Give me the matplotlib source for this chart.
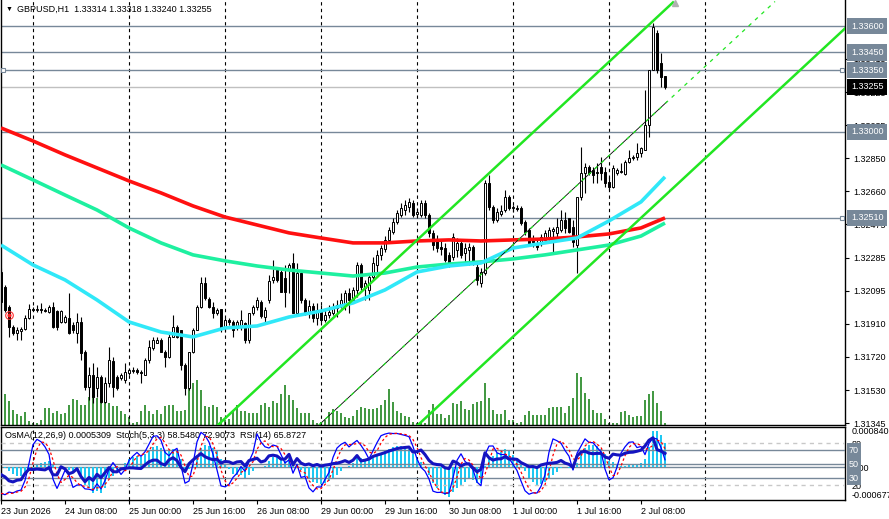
"""GBPUSD H1 chart in MetaTrader style: candles, volumes, MAs, channel and OsMA/Stoch/RSI pane."""

import matplotlib
matplotlib.use("Agg")
import matplotlib.pyplot as plt
import matplotlib.transforms as mtransforms
import numpy as np

plt.rcParams.update({"font.family": ["Liberation Sans", "DejaVu Sans"], "font.size": 6.5})

# ── Data ──────────────────────────────────────────────────────────────────
opens = [
    1.32203, 1.32118, 1.32004, 1.31890, 1.31857, 1.31868, 1.31879, 1.31942, 1.31993, 1.31987,
    1.31993, 1.31987, 1.31976, 1.32004, 1.31981, 1.31919, 1.31919, 1.31942, 1.31902, 1.31857,
    1.31919, 1.31749, 1.31550, 1.31618, 1.31544, 1.31607, 1.31465, 1.31573, 1.31697, 1.31607,
    1.31601, 1.31590, 1.31629, 1.31641, 1.31646, 1.31635, 1.31618, 1.31703, 1.31771, 1.31800,
    1.31817, 1.31749, 1.31720, 1.31834, 1.31890, 1.31874, 1.31675, 1.31544, 1.31749, 1.31874,
    1.32004, 1.32140, 1.32050, 1.32004, 1.31970, 1.31993, 1.31885, 1.31930, 1.31919, 1.31890,
    1.31890, 1.31913, 1.31817, 1.31970, 1.32004, 1.32033, 1.31947, 1.32044, 1.32158, 1.32214,
    1.32203, 1.32169, 1.32214, 1.32254, 1.31970, 1.32197, 1.32044, 1.31976, 1.32010, 1.31942,
    1.31987, 1.31930, 1.31959, 1.31970, 1.31998, 1.32010, 1.32016, 1.32084, 1.32044, 1.32101,
    1.32242, 1.32112, 1.32101, 1.32175, 1.32242, 1.32299, 1.32333, 1.32385, 1.32430, 1.32487,
    1.32527, 1.32555, 1.32572, 1.32595, 1.32533, 1.32527, 1.32595, 1.32527, 1.32425, 1.32385,
    1.32345, 1.32339, 1.32299, 1.32288, 1.32328, 1.32368, 1.32311, 1.32328, 1.32345, 1.32231,
    1.32140, 1.32197, 1.32709, 1.32572, 1.32498, 1.32533, 1.32555, 1.32629, 1.32567, 1.32567,
    1.32567, 1.32487, 1.32442, 1.32396, 1.32356, 1.32368, 1.32385, 1.32402, 1.32436, 1.32425,
    1.32442, 1.32498, 1.32510, 1.32459, 1.32356, 1.32629, 1.32765, 1.32799, 1.32782, 1.32771,
    1.32799, 1.32771, 1.32714, 1.32686, 1.32765, 1.32771, 1.32760, 1.32828, 1.32850, 1.32856,
    1.32879, 1.32896, 1.33038, 1.33350, 1.33560, 1.33390, 1.33314,
]
highs = [
    1.32225, 1.32130, 1.32016, 1.31902, 1.31890, 1.31890, 1.31959, 1.32021, 1.32004, 1.32016,
    1.32027, 1.31998, 1.32016, 1.32033, 1.31987, 1.31987, 1.31959, 1.32084, 1.31919, 1.31970,
    1.31947, 1.31760, 1.31663, 1.31686, 1.31663, 1.31618, 1.31607, 1.31777, 1.31720, 1.31618,
    1.31629, 1.31686, 1.31658, 1.31663, 1.31658, 1.31646, 1.31714, 1.31817, 1.31834, 1.31834,
    1.31828, 1.31760, 1.31857, 1.31959, 1.31902, 1.31874, 1.31686, 1.31749, 1.31885, 1.32016,
    1.32175, 1.32175, 1.32061, 1.32033, 1.31998, 1.31993, 1.31942, 1.31942, 1.31930, 1.31930,
    1.31987, 1.31919, 1.31970, 1.32016, 1.32061, 1.32044, 1.32004, 1.32186, 1.32271, 1.32225,
    1.32214, 1.32242, 1.32254, 1.32311, 1.32254, 1.32214, 1.32055, 1.32044, 1.32027, 1.32027,
    1.32016, 1.31987, 1.32016, 1.32027, 1.32044, 1.32084, 1.32101, 1.32112, 1.32118, 1.32259,
    1.32254, 1.32158, 1.32186, 1.32288, 1.32328, 1.32356, 1.32408, 1.32459, 1.32510, 1.32555,
    1.32595, 1.32612, 1.32624, 1.32612, 1.32567, 1.32612, 1.32612, 1.32538, 1.32442, 1.32413,
    1.32385, 1.32368, 1.32316, 1.32425, 1.32396, 1.32385, 1.32368, 1.32368, 1.32356, 1.32259,
    1.32225, 1.32726, 1.32754, 1.32584, 1.32567, 1.32584, 1.32669, 1.32641, 1.32584, 1.32584,
    1.32578, 1.32498, 1.32453, 1.32413, 1.32385, 1.32419, 1.32442, 1.32459, 1.32459, 1.32510,
    1.32555, 1.32544, 1.32510, 1.32498, 1.32629, 1.32913, 1.32822, 1.32811, 1.32799, 1.32822,
    1.32856, 1.32799, 1.32743, 1.32811, 1.32794, 1.32822, 1.32839, 1.32896, 1.32868, 1.32936,
    1.32913, 1.33237, 1.33350, 1.33617, 1.33578, 1.33447, 1.33318,
]
lows = [
    1.32016, 1.31976, 1.31834, 1.31846, 1.31817, 1.31817, 1.31874, 1.31936, 1.31981, 1.31976,
    1.31970, 1.31976, 1.31970, 1.31885, 1.31874, 1.31913, 1.31913, 1.31850, 1.31857, 1.31800,
    1.31703, 1.31533, 1.31476, 1.31459, 1.31493, 1.31459, 1.31459, 1.31550, 1.31493, 1.31533,
    1.31590, 1.31573, 1.31618, 1.31629, 1.31624, 1.31573, 1.31618, 1.31686, 1.31760, 1.31800,
    1.31749, 1.31663, 1.31714, 1.31834, 1.31828, 1.31646, 1.31504, 1.31533, 1.31743, 1.31874,
    1.31998, 1.32044, 1.31998, 1.31942, 1.31959, 1.31862, 1.31862, 1.31902, 1.31834, 1.31874,
    1.31874, 1.31800, 1.31800, 1.31959, 1.31987, 1.31942, 1.31913, 1.32027, 1.32140, 1.32147,
    1.32089, 1.32004, 1.32084, 1.31970, 1.31959, 1.32027, 1.31959, 1.31942, 1.31919, 1.31902,
    1.31919, 1.31919, 1.31942, 1.31959, 1.31947, 1.31998, 1.31987, 1.31970, 1.32033, 1.32061,
    1.32101, 1.32044, 1.32044, 1.32158, 1.32197, 1.32271, 1.32316, 1.32373, 1.32419, 1.32476,
    1.32516, 1.32527, 1.32544, 1.32516, 1.32510, 1.32516, 1.32510, 1.32402, 1.32328, 1.32316,
    1.32299, 1.32259, 1.32231, 1.32271, 1.32288, 1.32282, 1.32259, 1.32242, 1.32242, 1.32130,
    1.32118, 1.32186, 1.32555, 1.32481, 1.32487, 1.32521, 1.32544, 1.32555, 1.32544, 1.32550,
    1.32470, 1.32413, 1.32351, 1.32345, 1.32328, 1.32351, 1.32368, 1.32385, 1.32311, 1.32402,
    1.32430, 1.32425, 1.32425, 1.32345, 1.32197, 1.32612, 1.32652, 1.32754, 1.32709, 1.32709,
    1.32726, 1.32686, 1.32669, 1.32680, 1.32754, 1.32765, 1.32754, 1.32822, 1.32839, 1.32839,
    1.32856, 1.32896, 1.32970, 1.33350, 1.33333, 1.33254, 1.33240,
]
closes = [
    1.32033, 1.31987, 1.31890, 1.31857, 1.31874, 1.31879, 1.31942, 1.31993, 1.31987, 1.31993,
    1.31987, 1.31981, 1.32004, 1.31890, 1.31890, 1.31981, 1.31947, 1.31857, 1.31874, 1.31919,
    1.31743, 1.31550, 1.31618, 1.31493, 1.31607, 1.31465, 1.31573, 1.31703, 1.31550, 1.31544,
    1.31618, 1.31635, 1.31646, 1.31646, 1.31635, 1.31629, 1.31703, 1.31777, 1.31817, 1.31817,
    1.31749, 1.31720, 1.31834, 1.31890, 1.31834, 1.31675, 1.31544, 1.31749, 1.31874, 1.32004,
    1.32140, 1.32055, 1.32004, 1.31970, 1.31987, 1.31879, 1.31930, 1.31919, 1.31874, 1.31919,
    1.31930, 1.31817, 1.31970, 1.32004, 1.32044, 1.31953, 1.31987, 1.32152, 1.32175, 1.32158,
    1.32089, 1.32089, 1.32242, 1.31970, 1.32197, 1.32044, 1.31976, 1.32010, 1.31942, 1.31987,
    1.31930, 1.31959, 1.31976, 1.32004, 1.32016, 1.32044, 1.32084, 1.32044, 1.32101, 1.32242,
    1.32118, 1.32140, 1.32175, 1.32254, 1.32299, 1.32339, 1.32385, 1.32442, 1.32487, 1.32538,
    1.32567, 1.32584, 1.32601, 1.32527, 1.32544, 1.32595, 1.32527, 1.32425, 1.32356, 1.32339,
    1.32333, 1.32271, 1.32254, 1.32402, 1.32368, 1.32299, 1.32339, 1.32345, 1.32254, 1.32158,
    1.32203, 1.32709, 1.32572, 1.32498, 1.32544, 1.32550, 1.32629, 1.32567, 1.32572, 1.32561,
    1.32481, 1.32430, 1.32368, 1.32373, 1.32345, 1.32402, 1.32425, 1.32442, 1.32447, 1.32459,
    1.32498, 1.32453, 1.32430, 1.32373, 1.32629, 1.32765, 1.32799, 1.32765, 1.32754, 1.32765,
    1.32765, 1.32709, 1.32686, 1.32794, 1.32782, 1.32777, 1.32828, 1.32850, 1.32856, 1.32879,
    1.32907, 1.33038, 1.33350, 1.33595, 1.33350, 1.33310, 1.33255,
]
volumes = [
    3170, 3100, 2400, 1500, 1100, 900, 1270, 400, 230, 200,
    500, 1700, 1700, 1170, 1370, 1100, 1170, 1970, 2570, 2500,
    1970, 2030, 2800, 3000, 2700, 2900, 2600, 2170, 1930, 1900,
    1430, 1070, 770, 230, 330, 1370, 1970, 1370, 1070, 1500,
    1070, 1900, 1970, 1970, 1430, 1430, 1500, 3670, 4170, 4500,
    3500, 1930, 1830, 2000, 1770, 830, 500, 630, 1500, 1970,
    1430, 1370, 1230, 1230, 1170, 1970, 2230, 1830, 2430, 2170,
    3100, 4000, 3000, 2500, 1670, 1230, 1170, 1230, 500, 230,
    330, 500, 1330, 1570, 1430, 1230, 770, 730, 900, 1500,
    1830, 1700, 1570, 1570, 1700, 2030, 2500, 3600, 2300, 1400,
    1170, 900, 830, 330, 170, 230, 230, 1500, 2100, 1070,
    1070, 730, 1030, 2230, 2070, 2430, 1570, 1500, 2070, 2330,
    2400, 4230, 2670, 1500, 1100, 1100, 1500, 500, 500, 170,
    270, 1000, 1430, 1000, 1000, 1000, 1000, 1670, 1830, 1770,
    1770, 1230, 1900, 2730, 5230, 4770, 3230, 2570, 1500, 1170,
    1170, 570, 200, 170, 230, 1300, 1370, 1000, 830, 900,
    900, 2500, 3100, 3400, 2230, 1430, 230,
]

# moving averages, read every 8 bars (plus the last bar)
ma_idx = [0, 8, 16, 24, 32, 40, 48, 56, 64, 72, 80, 88, 96, 104, 112, 120, 128, 136, 144, 152, 160, 166]
ma_red = [1.33021, 1.32947, 1.32868, 1.32794, 1.32720, 1.32652, 1.32578, 1.32515, 1.32470, 1.32425, 1.32396,
          1.32368, 1.32368, 1.32379, 1.32385, 1.32379, 1.32385, 1.32390, 1.32402, 1.32419, 1.32453, 1.32510]
ma_green = [1.32811, 1.32726, 1.32640, 1.32555, 1.32453, 1.32368, 1.32300, 1.32266, 1.32237, 1.32214, 1.32197,
            1.32180, 1.32197, 1.32231, 1.32248, 1.32260, 1.32277, 1.32300, 1.32328, 1.32356, 1.32407, 1.32481]
ma_cyan = [1.32356, 1.32243, 1.32158, 1.32044, 1.31919, 1.31862, 1.31834, 1.31885, 1.31896, 1.31947, 1.31981,
           1.32027, 1.32101, 1.32203, 1.32237, 1.32254, 1.32339, 1.32368, 1.32396, 1.32493, 1.32601, 1.32743]

# price channel (bar index, price) end points
chan_upper = ([54.25, 168.0], [1.31334, 1.33734])
chan_mid = ([79.5, 193.5], [1.31334, 1.33739])
chan_mid_solid = ([79.5, 166.5], [1.31334, 1.33170])
chan_lower = ([104.25, 211.0], [1.31334, 1.33586])

level_lines = [1.33600, 1.33450, 1.33350, 1.33000, 1.32510]
bid_price = 1.33255
price_ticks = [1.31345, 1.31530, 1.31720, 1.31910, 1.32095, 1.32285, 1.32475,
               1.32660, 1.32850, 1.33035, 1.33225, 1.33415]

time_idx = [0, 16, 32, 48, 64, 80, 96, 112, 128, 144, 160]
time_labels = ["23 Jun 2026", "24 Jun 08:00", "25 Jun 00:00", "25 Jun 16:00", "26 Jun 08:00",
               "29 Jun 00:00", "29 Jun 16:00", "30 Jun 08:00", "1 Jul 00:00", "1 Jul 16:00", "2 Jul 08:00"]
grid_idx = [8, 32, 56, 80, 104, 128, 152, 176]

header = "GBPUSD,H1  1.33314 1.33318 1.33240 1.33255"
ind_header = "OsMA(12,26,9) 0.0005309  Stoch(5,3,3) 58.5480 72.9073  RSI(14) 65.8727"

# ── Indicators derived from the candles ──────────────────────────────────


def ema(values, n):
    k = 2.0 / (n + 1)
    out = np.empty_like(values)
    out[0] = values[0]
    for t in range(1, len(values)):
        out[t] = values[t] * k + out[t - 1] * (1 - k)
    return out


def sma(values, n):
    return np.array([values[max(0, t - n + 1): t + 1].mean() for t in range(len(values))])


def rolling(values, n, fn):
    return np.array([fn(values[max(0, t - n + 1): t + 1]) for t in range(len(values))])


o = np.array(opens)
h = np.array(highs)
l = np.array(lows)
c = np.array(closes)
idx = np.arange(len(c))

macd = ema(c, 12) - ema(c, 26)
osma = macd - sma(macd, 9)

hh = rolling(h, 5, np.max)
ll = rolling(l, 5, np.min)
stoch_k = 100 * rolling(c - ll, 3, np.sum) / np.maximum(rolling(hh - ll, 3, np.sum), 1e-9)
stoch_d = sma(stoch_k, 3)

# Wilder RSI, seeded with the average move of the first 14 bars
diff = np.diff(c, prepend=c[0])
gain = np.clip(diff, 0, None)
loss = np.clip(-diff, 0, None)
ag = np.empty_like(c)
al = np.empty_like(c)
ag[0], al[0] = gain[1:15].mean(), loss[1:15].mean()
for t in range(1, len(c)):
    ag[t] = (ag[t - 1] * 13 + gain[t]) / 14
    al[t] = (al[t - 1] * 13 + loss[t]) / 14
rsi = 100 - 100 / (1 + ag / np.maximum(al, 1e-12))

# ── Figure ────────────────────────────────────────────────────────────────
W, H = 889, 519
SLATE = "#778899"


def rect(x0, y0, x1, y1):
    return [x0 / W, 1 - y1 / H, (x1 - x0) / W, (y1 - y0) / H]


fig = plt.figure(figsize=(W / 100, H / 100), dpi=100)
fig.patch.set_facecolor("white")

# volumes sit behind the price axes
axv = fig.add_axes(rect(1, 0, 845, 425))
axv.set_xlim(0, 211)
axv.set_ylim(0, 42500)
axv.axis("off")
axv.vlines(idx, 0, volumes, color="#0b7a0b", lw=1.1)

ax = fig.add_axes(rect(1, 0, 845, 425), sharex=axv)
ax.patch.set_visible(False)
ax.set_xlim(0, 211)
ax.set_ylim(1.313337, 1.337477)

for gi in grid_idx:
    ax.axvline(gi, color="black", lw=0.8, ls=(0, (3, 3)), zorder=1)
for p in level_lines:
    ax.axhline(p, color=SLATE, lw=1, zorder=2)
ax.axhline(bid_price, color="#c0c0c0", lw=1, zorder=2)

# candles
up = c >= o
ax.vlines(idx, l, h, color="black", lw=0.8, zorder=4)
ax.bar(idx, np.abs(c - o), bottom=np.minimum(o, c), width=0.62,
       color=np.where(up, "white", "black"), edgecolor="black", lw=0.7, zorder=5)

# moving averages
ax.plot(ma_idx, ma_green, color="#1ef0a0", lw=2.6, zorder=6, solid_capstyle="butt")
ax.plot(ma_idx, ma_red, color="#ff1010", lw=2.6, zorder=6, solid_capstyle="butt")
ax.plot(ma_idx, ma_cyan, color="#30e8f8", lw=2.6, zorder=6, solid_capstyle="butt")

# channel
ax.plot(*chan_upper, color="#22e622", lw=1.8, zorder=7)
ax.plot(*chan_lower, color="#22e622", lw=1.8, zorder=7)
ax.plot(*chan_mid_solid, color="black", lw=0.6, zorder=7)
ax.plot(*chan_mid, color="#22e622", lw=0.9, ls=(0, (3, 4)), zorder=7)
ax.plot([168.6], [1.33728], marker="^", ms=5, color="#b0b0b0", zorder=8, clip_on=False)

# small anchors and order marker
ax.plot([0.5], [1.33350], marker="s", ms=3.5, mfc="white", mec=SLATE, mew=0.8, zorder=8)
ax.plot([210.3, 210.3], [1.33350, 1.32510], ls="none", marker="s", ms=3.5, mfc="white", mec=SLATE, mew=0.8, zorder=8)
ax.plot([2], [1.31959], marker="o", ms=5.5, mfc="none", mec="#ff3030", mew=0.8, zorder=8)
ax.plot([2], [1.31959], marker="o", ms=2, color="#ff2020", zorder=8)

# axes cosmetics
ax.spines["top"].set_visible(False)
for s in ("left", "right", "bottom"):
    ax.spines[s].set_color("black")
    ax.spines[s].set_linewidth(1)
ax.tick_params(axis="x", bottom=False, labelbottom=False)
ax.yaxis.tick_right()
ax.set_yticks(price_ticks)
ax.set_yticklabels([f"{p:.5f}" for p in price_ticks])
ax.tick_params(axis="y", length=3, pad=3, labelsize=6.5, colors="black")

trans = mtransforms.blended_transform_factory(ax.transAxes, ax.transData)
for p in level_lines:
    ax.text(1 + 6 / 844, p, f"{p:.5f}", transform=trans, ha="left", va="center", color="white",
            fontsize=6.5, bbox=dict(boxstyle="square,pad=0.4", fc=SLATE, ec="none"), clip_on=False, zorder=10)
ax.text(1 + 6 / 844, bid_price, f"{bid_price:.5f}", transform=trans, ha="left", va="center", color="white",
        fontsize=6.5, bbox=dict(boxstyle="square,pad=0.4", fc="black", ec="none"), clip_on=False, zorder=10)

ax.text(5 / 844, 1 - 9 / 425, "\u25bc", transform=ax.transAxes, fontsize=5, va="center", ha="left")
ax.text(16 / 844, 1 - 9 / 425, header, transform=ax.transAxes, fontsize=6.5, va="center", ha="left")

# ── Indicator pane ───────────────────────────────────────────────────────
axi = fig.add_axes(rect(1, 427, 845, 500), sharex=axv)
axi.set_ylim(-0.000677, 0.000840)
for gi in grid_idx:
    axi.axvline(gi, color="black", lw=0.8, ls=(0, (3, 3)), zorder=1)
axi.axhline(0, color=SLATE, lw=1, zorder=1)
axi.bar(idx, osma, width=0.72, color="#1ec8f2", zorder=2)
axi.yaxis.tick_right()
axi.set_yticks([-0.000677, 0, 0.000840])
axi.set_yticklabels(["-0.000677", "0.00", "0.000840"])
labs = axi.get_yticklabels()
labs[0].set_va("bottom")
labs[2].set_va("top")
axi.tick_params(axis="y", length=0, pad=5, labelsize=6.5)
axi.set_xticks(time_idx)
axi.set_xticklabels(time_labels, ha="left")
axi.tick_params(axis="x", length=3, pad=2, labelsize=6.5)
for s in axi.spines.values():
    s.set_color("black")
    s.set_linewidth(1)

axs = fig.add_axes(rect(1, 427, 845, 500), sharex=axv)
axs.patch.set_visible(False)
axs.set_ylim(-1.43, 102.9)
for lvl in (80, 20):
    axs.axhline(lvl, color="#c8c8c8", lw=1, ls=(0, (3, 3)), zorder=1)
for lvl in (70, 50, 30):
    axs.axhline(lvl, color=SLATE, lw=1, zorder=1)
axs.plot(idx, stoch_k, color="#0000ff", lw=0.9, zorder=3)
axs.plot(idx, stoch_d, color="#ff0000", lw=0.9, ls=(0, (2, 2)), zorder=3)
axs.plot(idx, rsi, color="#1414c0", lw=2.2, zorder=4)
for s in axs.spines.values():
    s.set_visible(False)
axs.tick_params(axis="x", bottom=False, labelbottom=False)
axs.yaxis.tick_right()
axs.set_yticks([20, 80])
axs.set_yticklabels(["20", "80"])
axs.tick_params(axis="y", length=0, pad=5, labelsize=6.5)
trans_s = mtransforms.blended_transform_factory(axs.transAxes, axs.transData)
for lvl in (70, 50, 30):
    axs.text(1 + 4 / 844, lvl, str(lvl), transform=trans_s, ha="left", va="center", color="white",
             fontsize=6.5, bbox=dict(boxstyle="square,pad=0.25", fc=SLATE, ec="none"), clip_on=False, zorder=10)

axi.text(4 / 844, (500 - 436) / 73, ind_header, transform=axi.transAxes, fontsize=6.5, va="center", ha="left", zorder=9)

fig.savefig("out.png", dpi=100)
